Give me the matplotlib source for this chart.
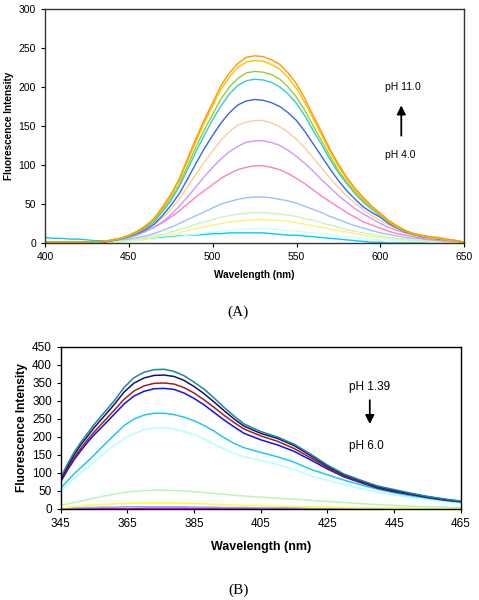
import matplotlib
matplotlib.use("Agg")
import matplotlib.pyplot as plt

plt.rcParams['font.family'] = ['Liberation Sans', 'DejaVu Sans']

# ---- panel A: emission spectra, pH 4.0 -> 11.0 ----
wl_a = list(range(400, 655, 5))

a_orange = [1, 1, 1, 1, 1, 1, 1, 2, 4, 6, 10, 15, 22, 31, 46, 62, 82, 108, 134, 158,
            180, 202, 218, 230, 238, 240, 239, 235, 229, 218, 204, 185, 163, 142, 120,
            101, 84, 70, 58, 47, 38, 29, 22, 16, 12, 10, 8, 7, 5, 3, 1]
a_gold = [1, 1, 1, 1, 1, 1, 1, 2, 4, 6, 10, 15, 22, 31, 45, 61, 80, 105, 130, 154,
          176, 197, 213, 225, 232, 234, 233, 229, 223, 212, 198, 180, 159, 138, 117,
          98, 82, 68, 56, 46, 37, 28, 21, 16, 12, 9, 7, 6, 4, 3, 1]
a_green = [1, 1, 1, 1, 1, 1, 1, 2, 4, 6, 9, 14, 20, 29, 42, 57, 75, 99, 123, 145,
           165, 185, 200, 211, 218, 220, 219, 216, 210, 200, 187, 170, 150, 131, 111,
           93, 78, 65, 54, 44, 36, 27, 20, 15, 11, 9, 7, 6, 4, 3, 1]
a_teal = [1, 1, 1, 1, 1, 1, 1, 2, 3, 5, 9, 13, 19, 27, 40, 54, 72, 94, 117, 138,
          158, 176, 191, 202, 208, 210, 209, 206, 200, 191, 179, 163, 144, 126, 107,
          90, 76, 63, 52, 43, 35, 27, 20, 15, 11, 9, 7, 6, 4, 3, 1]
a_blue = [1, 1, 1, 1, 1, 1, 1, 1, 3, 5, 8, 12, 17, 24, 35, 48, 63, 82, 102, 121,
          138, 154, 167, 177, 182, 184, 183, 180, 175, 167, 157, 143, 127, 111, 95,
          80, 67, 56, 46, 39, 33, 25, 19, 14, 11, 8, 7, 5, 4, 3, 1]
a_peach = [0, 0, 0, 0, 0, 0, 1, 1, 3, 5, 8, 12, 17, 23, 32, 43, 56, 72, 88, 104,
           118, 132, 143, 151, 155, 157, 157, 154, 149, 142, 133, 122, 109, 96, 83,
           71, 60, 51, 42, 35, 29, 23, 18, 14, 11, 8, 7, 5, 4, 3, 1]
a_lilac = [0, 0, 0, 0, 0, 0, 1, 1, 3, 5, 7, 10, 15, 20, 27, 36, 47, 59, 72, 85,
           97, 108, 117, 124, 129, 131, 131, 129, 125, 119, 111, 102, 92, 81, 71,
           61, 52, 44, 37, 31, 25, 20, 16, 13, 10, 8, 6, 5, 4, 3, 1]
a_pink = [0, 0, 0, 0, 0, 0, 1, 2, 3, 5, 8, 11, 15, 20, 26, 33, 41, 50, 59, 67,
          75, 83, 89, 94, 97, 99, 99, 97, 94, 89, 83, 76, 68, 60, 53,
          46, 39, 33, 27, 23, 19, 15, 12, 10, 8, 6, 5, 4, 3, 2, 1]
a_skyblue = [0, 0, 0, 0, 0, 1, 1, 2, 3, 4, 5, 7, 9, 12, 16, 20, 25, 30, 35, 40,
             45, 50, 53, 56, 58, 59, 59, 58, 56, 54, 51, 47, 43, 39, 34,
             30, 26, 22, 19, 16, 13, 11, 9, 7, 6, 5, 4, 3, 2, 2, 1]
a_mint = [0, 0, 0, 0, 0, 0, 1, 1, 2, 3, 4, 5, 7, 9, 11, 14, 17, 20, 24, 27,
          30, 33, 35, 37, 38, 39, 39, 38, 37, 36, 34, 31, 29, 26, 23,
          20, 17, 15, 13, 11, 9, 7, 6, 5, 4, 3, 3, 2, 2, 1, 1]
a_cream = [0, 0, 0, 0, 0, 0, 1, 1, 2, 2, 3, 4, 5, 7, 9, 11, 13, 16, 18, 21,
           23, 25, 27, 28, 29, 30, 30, 29, 29, 28, 26, 24, 22, 20, 18,
           16, 14, 12, 10, 8, 7, 6, 5, 4, 3, 3, 2, 2, 1, 1, 1]
a_ice = [0, 0, 0, 0, 0, 0, 1, 1, 1, 2, 2, 3, 4, 5, 6, 7, 8, 10, 11, 13,
         14, 15, 16, 17, 18, 18, 18, 18, 17, 16, 15, 14, 13, 12, 11,
         9, 8, 7, 6, 5, 4, 4, 3, 3, 2, 2, 1, 1, 1, 1, 0]
a_cyan = [7, 6, 6, 5, 5, 4, 3, 3, 2, 2, 3, 4, 5, 6, 7, 8, 9, 10, 10, 11,
          12, 12, 13, 13, 13, 13, 13, 12, 11, 10, 10, 9, 8, 7, 6,
          5, 4, 3, 2, 1, 1, 0, 0, 0, 0, 0, 0, 0, 0, 0, 0]

series_a = [
    (a_cyan, '#00CCFF'), (a_ice, '#CCFFFF'), (a_cream, '#FFF176'), (a_mint, '#C6F5C6'),
    (a_skyblue, '#99C2FF'), (a_pink, '#FF80BF'), (a_lilac, '#CC99FF'), (a_peach, '#FFCC99'),
    (a_blue, '#3366EE'), (a_teal, '#33CCCC'), (a_green, '#99CC33'), (a_gold, '#FFC000'),
    (a_orange, '#FF9900'),
]

# ---- panel B: emission spectra, pH 1.39 -> 6.0 ----
wl_b = [345, 347, 349, 351, 353, 355, 358, 361, 364, 367, 370, 373, 376, 379, 382,
        385, 388, 391, 394, 397, 400, 405, 410, 415, 420, 425, 430, 435, 440, 445,
        450, 455, 460, 465]

b_teal = [88, 125, 158, 185, 210, 235, 268, 300, 338, 365, 380, 387, 388, 382, 370,
          352, 333, 308, 282, 258, 236, 215, 200, 180, 152, 122, 97, 80, 64, 54,
          44, 35, 28, 22]
b_navy = [82, 118, 150, 178, 202, 226, 258, 290, 325, 350, 364, 371, 372, 368, 357,
          340, 320, 297, 273, 250, 230, 210, 196, 176, 148, 119, 95, 78, 62, 52,
          42, 34, 27, 21]
b_red = [78, 112, 142, 168, 192, 214, 244, 274, 305, 328, 342, 349, 350, 347, 337,
         322, 303, 282, 260, 240, 222, 203, 188, 168, 142, 115, 92, 75, 60, 50,
         41, 33, 26, 21]
b_blue = [76, 108, 137, 162, 185, 206, 234, 263, 292, 314, 327, 334, 335, 332, 322,
          307, 289, 268, 247, 228, 210, 192, 178, 160, 136, 111, 89, 73, 58, 48,
          40, 32, 25, 20]
b_sky = [58, 78, 98, 115, 132, 150, 178, 205, 232, 250, 261, 266, 266, 262, 255,
         245, 232, 216, 198, 182, 170, 157, 145, 130, 110, 95, 80, 67, 55, 45,
         37, 30, 24, 19]
b_ice = [50, 68, 85, 100, 115, 130, 155, 178, 196, 210, 220, 225, 226, 222, 215,
         207, 195, 180, 167, 155, 145, 135, 124, 110, 92, 80, 68, 57, 47, 39,
         32, 26, 21, 17]
b_mint = [10, 14, 18, 22, 26, 30, 36, 41, 46, 49, 51, 52, 52, 51, 50,
          48, 46, 43, 41, 38, 36, 33, 30, 27, 24, 21, 18, 15, 12, 10,
          8, 6, 5, 4]
b_yellow = [3, 5, 7, 8, 10, 11, 13, 14, 15, 16, 17, 17, 17, 17, 16,
            15, 14, 13, 12, 11, 10, 9, 8, 7, 6, 5, 4, 3, 3, 2,
            2, 1, 1, 1]
b_lavender = [2, 2, 3, 3, 4, 4, 5, 5, 6, 6, 6, 6, 6, 6, 6,
              5, 5, 5, 4, 4, 4, 3, 3, 3, 2, 2, 2, 1, 1, 1,
              1, 1, 1, 1]
b_violet = [1, 1, 1, 1, 1, 1, 1, 1, 1, 1, 1, 1, 1, 1, 1,
            1, 1, 1, 1, 1, 1, 1, 1, 1, 1, 1, 1, 1, 1, 1,
            1, 1, 1, 1]
b_magenta = [0, 0, 0, 0, 0, 0, 0, 0, 1, 1, 2, 2, 2, 2, 2,
             1, 1, 0, 0, 0, 0, 0, 0, 0, 0, 0, 0, 0, 0, 0,
             0, 0, 0, 0]

series_b = [
    (b_violet, '#6633CC'), (b_magenta, '#FF00FF'), (b_lavender, '#9999FF'),
    (b_yellow, '#FFFF33'), (b_mint, '#B8F5B8'), (b_ice, '#B3FFFF'),
    (b_sky, '#1EC8F5'), (b_blue, '#1010F0'), (b_red, '#A0201A'),
    (b_navy, '#101080'), (b_teal, '#208A8A'),
]

fig = plt.figure(figsize=(4.79, 6.0), dpi=100)

# panel A
ax1 = fig.add_axes([0.094, 0.595, 0.875, 0.39])
for ys, c in series_a:
    ax1.plot(wl_a, ys, color=c, lw=1.0)
ax1.set_xlim(400, 650)
ax1.set_ylim(0, 300)
ax1.set_xticks(range(400, 651, 50))
ax1.set_yticks(range(0, 301, 50))
ax1.tick_params(labelsize=7.5, length=3, width=0.8, direction='out')
ax1.set_xlabel('Wavelength (nm)', fontsize=7.2, fontweight='bold', labelpad=6)
ax1.set_ylabel('Fluorescence Intensity', fontsize=7.2, fontweight='bold', labelpad=3)
for s in ax1.spines.values():
    s.set_color('#333333')
    s.set_linewidth(1.0)
ax1.text(603, 200, 'pH 11.0', fontsize=7.5, va='center', ha='left')
ax1.text(603, 113, 'pH 4.0', fontsize=7.5, va='center', ha='left')
ax1.annotate('', xy=(612.5, 180), xytext=(612.5, 134),
             arrowprops=dict(arrowstyle='-|>', color='black', lw=1.3, mutation_scale=13))
fig.text(0.497, 0.48, '(A)', fontsize=11, family='Liberation Serif', ha='center', va='center')

# panel B
ax2 = fig.add_axes([0.127, 0.1517, 0.835, 0.27])
for ys, c in series_b:
    ax2.plot(wl_b, ys, color=c, lw=1.1)
ax2.set_xlim(345, 465)
ax2.set_ylim(0, 450)
ax2.set_xticks(range(345, 466, 20))
ax2.set_yticks(range(0, 451, 50))
ax2.tick_params(labelsize=8.5, length=3, width=0.8, direction='out')
ax2.set_xlabel('Wavelength (nm)', fontsize=9, fontweight='bold', labelpad=8)
ax2.set_ylabel('Fluorescence Intensity', fontsize=8.6, fontweight='bold', labelpad=3)
for s in ax2.spines.values():
    s.set_color('black')
    s.set_linewidth(1.0)
ax2.text(431.5, 340, 'pH 1.39', fontsize=8.5, va='center', ha='left')
ax2.text(431.5, 175, 'pH 6.0', fontsize=8.5, va='center', ha='left')
ax2.annotate('', xy=(437.7, 228), xytext=(437.7, 310),
             arrowprops=dict(arrowstyle='-|>', color='black', lw=1.3, mutation_scale=13))
fig.text(0.497, 0.017, '(B)', fontsize=11, family='Liberation Serif', ha='center', va='center')

fig.savefig('out.png', dpi=100)
